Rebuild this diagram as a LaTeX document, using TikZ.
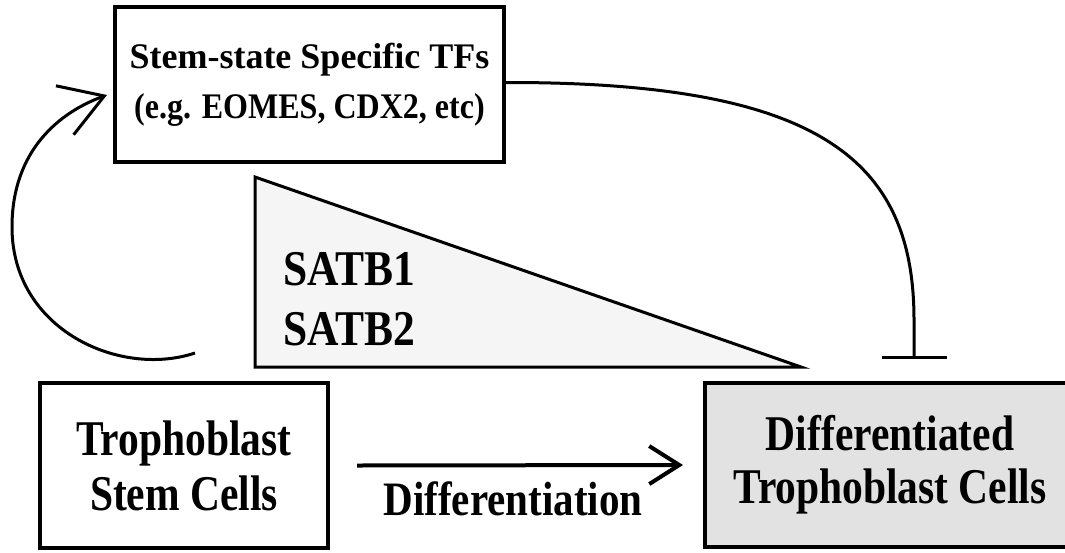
\documentclass[tikz,border=0pt]{standalone}
\usepackage{fontspec}
\setmainfont{Liberation Serif}
\newfontfamily\fTop{Liberation Serif Bold}
\newfontfamily\fTopB{Liberation Serif Bold}[FakeStretch=0.89]
\newfontfamily\fBox{Liberation Serif Bold}[FakeStretch=0.83]
\newfontfamily\fLab{Liberation Serif Bold}[FakeStretch=0.855]
\newfontfamily\fSatb{Liberation Serif Bold}[FakeStretch=0.87]
\usetikzlibrary{arrows.meta}
\definecolor{tri}{HTML}{F5F5F5}
\definecolor{dgray}{HTML}{E2E2E2}
\tikzset{
  boxstyle/.style={draw=black, line width=4pt, rectangle, inner sep=0pt, align=center},
  conn/.style={draw=black, line width=3pt},
}
\begin{document}
\begin{tikzpicture}[x=1pt,y=-1pt]
\useasboundingbox (0,0) rectangle (1065,552);
% triangle
\draw[line width=3pt, fill=tri, line join=miter] (255,177) -- (255,367) -- (801,367) -- cycle;
\node[anchor=base west, inner sep=0pt, font=\fontsize{50}{50}\fSatb] (satb1) at (283,285) {SATB1};
\node[anchor=base west, inner sep=0pt, font=\fontsize{50}{50}\fSatb] (satb2) at (283,345) {SATB2};
% boxes
\node[boxstyle, minimum width=389pt, minimum height=155pt, font=\fontsize{36}{50}\fTop] (top) at (309.5,84.5)
  {\raisebox{0pt}[\height][\depth]{Stem-state Specific TFs}\\{\fTopB (e.g. EOMES, CDX2, etc)}};
\node[boxstyle, minimum width=288pt, minimum height=165pt, font=\fontsize{50}{55}\fBox] (tsc) at (184,465.5)
  {Trophoblast\\Stem Cells};
\node[boxstyle, fill=dgray, minimum width=370pt, minimum height=164pt, font=\fontsize{50}{53}\fBox] (dtc) at (890,465)
  {Differentiated\\Trophoblast Cells};
% differentiation arrow
\draw[line width=4pt, -{Straight Barb[length=30pt,width=38pt,line width=4pt]}]
  ([xshift=27pt]tsc.east) -- ([xshift=-20pt]dtc.west);
\node[anchor=base, inner sep=0pt, font=\fontsize{48}{48}\fLab] (difflab) at (513,515) {Differentiation};
% inhibition
\coordinate (tbar) at (914,359);
\draw[conn, -{Bar[width=65pt,line width=3pt]}]
  ([yshift=2pt]top.east) .. controls (820,82) and (914,160) .. (914,320) -- (tbar);
% self loop
\coordinate (loopstart) at (195,353);
\coordinate (loopend) at (107,95);
\draw[conn, -{Straight Barb[length=42pt,width=52pt,line width=3pt]}]
  (loopstart) .. controls (120,378) and (12,330) .. (12,227)
  .. controls (12,150) and (60,112) .. (loopend);
\end{tikzpicture}
\end{document}
